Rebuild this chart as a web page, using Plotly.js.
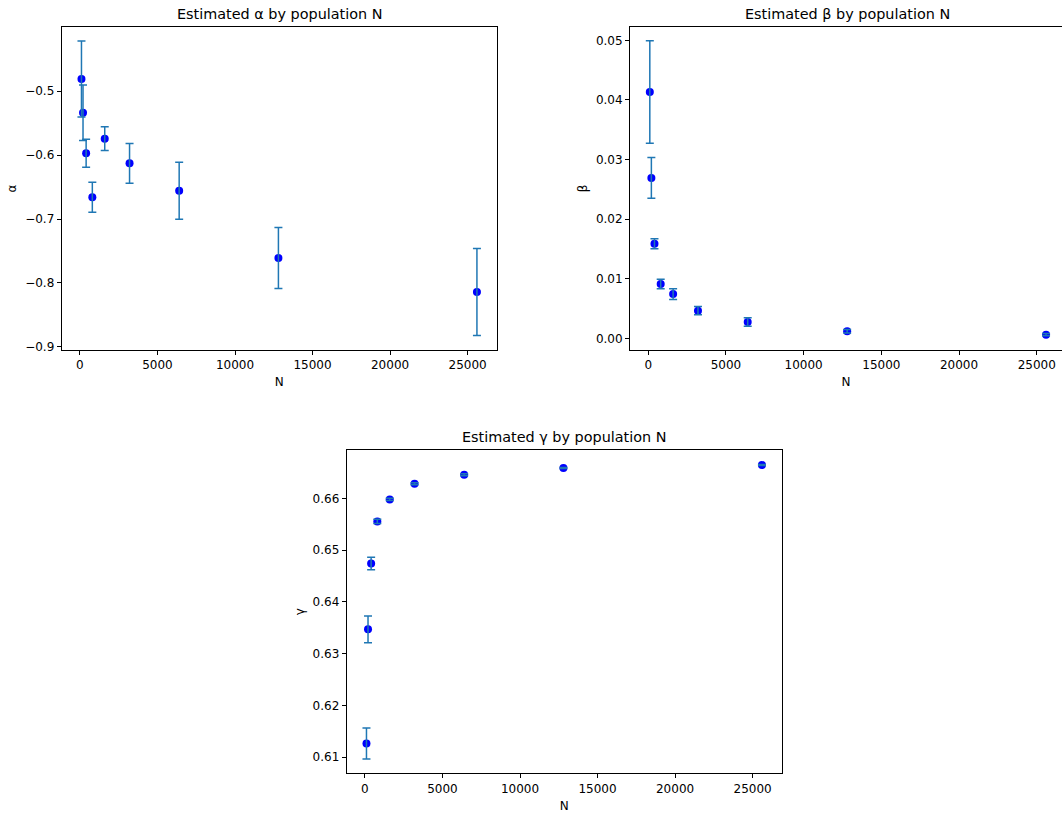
<!DOCTYPE html>
<html>
<head>
<meta charset="utf-8">
<script src="https://cdn.plot.ly/plotly-3.0.1.min.js"></script>
<style>html,body{margin:0;padding:0;background:#fff;}#chart{width:1062px;height:813px;}</style>
</head>
<body>
<div id="chart"></div>
<script>
const N = [100, 200, 400, 800, 1600, 3200, 6400, 12800, 25600];

const alpha = [-0.4813, -0.534, -0.5973, -0.6661, -0.5745, -0.613, -0.6558, -0.761, -0.8141];
const alphaErr = [0.0594, 0.0434, 0.022, 0.0235, 0.0185, 0.031, 0.0445, 0.0477, 0.068];

const beta = [0.04134, 0.02693, 0.01588, 0.00913, 0.00745, 0.00466, 0.00276, 0.0012, 0.00064];
const betaErr = [0.0086, 0.0034, 0.00084, 0.0008, 0.0009, 0.0007, 0.0007, 0.0003, 0.0002];

const gamma = [0.61265, 0.6347, 0.64743, 0.65555, 0.6598, 0.66283, 0.66456, 0.66585, 0.66644];
const gammaErr = [0.003, 0.0026, 0.0012, 0.0004, 0.0002, 0.0002, 0.0002, 0.0001, 0.0001];

const titles = ["Estimated α by population N", "Estimated β by population N", "Estimated γ by population N"];
const yLabels = ["α", "β", "γ"];
const xLabel = "N";
const xTicks = [0, 5000, 10000, 15000, 20000, 25000];
const alphaTicks = [-0.9, -0.8, -0.7, -0.6, -0.5];
const betaTicks = [0.00, 0.01, 0.02, 0.03, 0.04, 0.05];
const gammaTicks = [0.61, 0.62, 0.63, 0.64, 0.65, 0.66];

const FONT = "DejaVu Sans, Liberation Sans, sans-serif";
const ERR_COLOR = "#1f77b4";
const MARK_COLOR = "#0000ff";

function pair(y, err, xa, ya) {
  return [
    {x: N, y: y, xaxis: xa, yaxis: ya, type: "scatter", mode: "markers",
     marker: {color: MARK_COLOR, size: 8}, hoverinfo: "x+y", showlegend: false},
    {x: N, y: y, xaxis: xa, yaxis: ya, type: "scatter", mode: "markers",
     marker: {color: MARK_COLOR, size: 8, opacity: 0}, showlegend: false, hoverinfo: "skip",
     error_y: {type: "data", array: err, visible: true, color: ERR_COLOR, thickness: 1.5, width: 4}}
  ];
}

const data = [].concat(
  pair(alpha, alphaErr, "x", "y"),
  pair(beta, betaErr, "x2", "y2"),
  pair(gamma, gammaErr, "x3", "y3")
);

function xAxis(domain, range, anchor) {
  return {domain: domain, range: range, anchor: anchor, showgrid: false, zeroline: false,
    showline: true, mirror: true, linecolor: "#000", linewidth: 1,
    ticks: "outside", ticklen: 4, tickwidth: 1, tickcolor: "#000",
    tickvals: xTicks, tickformat: "d",
    tickfont: {family: FONT, size: 12, color: "#000"},
    title: {text: xLabel, font: {family: FONT, size: 12, color: "#000"}, standoff: 6}};
}
function yAxis(domain, range, anchor, vals, fmt, label, mirror) {
  return {domain: domain, range: range, anchor: anchor, showgrid: false, zeroline: false,
    showline: true, mirror: mirror, linecolor: "#000", linewidth: 1,
    ticks: "outside", ticklen: 4, tickwidth: 1, tickcolor: "#000",
    tickvals: vals, tickformat: fmt,
    tickfont: {family: FONT, size: 12, color: "#000"},
    title: {text: label, font: {family: FONT, size: 12, color: "#000"}, standoff: 5}};
}

const W = 1062, H = 813;
const px = v => v / W;
const py = v => 1 - v / H;

const layout = {
  width: W, height: H,
  margin: {l: 0, r: 0, t: 0, b: 0},
  paper_bgcolor: "#fff", plot_bgcolor: "#fff",
  font: {family: FONT, color: "#000"},
  showlegend: false,
  xaxis: xAxis([px(61.7), px(496.7)], [-1175, 26875], "y"),
  yaxis: yAxis([py(350), py(27)], [-0.9047, -0.4], "x", alphaTicks, ".1f", yLabels[0], true),
  xaxis2: xAxis([px(630), 1], [-1175, 26626], "y2"),
  yaxis2: yAxis([py(350), py(27)], [-0.00193, 0.05223], "x2", betaTicks, ".2f", yLabels[1], false),
  xaxis3: xAxis([px(346.7), px(781.7)], [-1175, 26875], "y3"),
  yaxis3: yAxis([py(773.3), py(450)], [0.6069, 0.66934], "x3", gammaTicks, ".2f", yLabels[2], true),
  annotations: [
    {text: titles[0], xref: "paper", yref: "paper", x: px(279), y: py(14), xanchor: "center", yanchor: "middle", showarrow: false, font: {family: FONT, size: 14.4, color: "#000"}},
    {text: titles[1], xref: "paper", yref: "paper", x: px(847), y: py(14), xanchor: "center", yanchor: "middle", showarrow: false, font: {family: FONT, size: 14.4, color: "#000"}},
    {text: titles[2], xref: "paper", yref: "paper", x: px(564), y: py(437), xanchor: "center", yanchor: "middle", showarrow: false, font: {family: FONT, size: 14.4, color: "#000"}}
  ]
};

Plotly.newPlot("chart", data, layout, {displayModeBar: false, staticPlot: true});
</script>
</body>
</html>
